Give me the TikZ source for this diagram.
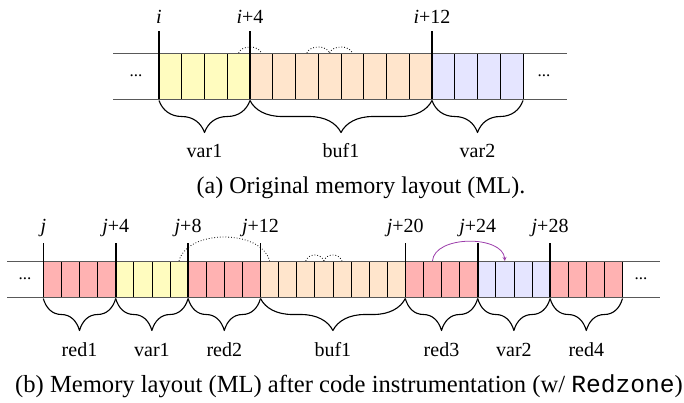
\documentclass[tikz,border=0pt]{standalone}
\usepackage{fontspec}
\setmainfont{Liberation Serif}
\setmonofont{Liberation Mono}
\usetikzlibrary{decorations.pathreplacing,arrows.meta,positioning}
\definecolor{arcviolet}{RGB}{155,60,170}

\begin{document}
\begin{tikzpicture}[x=1pt, y=-1pt, >=stealth, line join=round,
    cellbox/.style={draw=black, line width=0.7pt, inner sep=0pt, outer sep=0pt, anchor=north west},
    ptr/.style={line width=1.6pt},
    brc/.style={decorate, decoration={brace, mirror, amplitude=32pt, raise=1.5pt}, line width=1.1pt},
    lbl/.style={font=\fontsize{20}{24}\selectfont, inner sep=0pt},
    dotsn/.style={font=\fontsize{17}{20}\selectfont, inner sep=1pt},
    captxt/.style={font=\fontsize{24}{28}\selectfont, inner sep=0pt, anchor=base},
    ovf/.style={dotted, line width=0.8pt},
    strip/.style={draw=gray!70!black, line width=0.8pt}]
  \useasboundingbox (0,0) rectangle (684,402);

  % (a) original layout
  \foreach \s/\n/\c in {0/4/yellow!25, 4/8/orange!20, 12/4/blue!10}{
    \pgfmathtruncatemacro\e{\s+\n-1}
    \foreach \k in {\s,...,\e}
      \node[cellbox, fill=\c, minimum width=22.75pt, minimum height=46pt] (a\k) at (159+22.75*\k,53) {};
  }
  \draw[strip] (113,53) -- (567,53) (113,99) -- (567,99);
  \node[dotsn] (dl) at (136,76) {...};
  \node[dotsn] (dr) at (544,76) {...};
  \foreach \k/\t [count=\n] in {0/{\textit{i}}, 4/{\textit{i}+4}, 12/{\textit{i}+12}}
    \draw[ptr] (a\k.south west) -- ++(0,-68) node[lbl, anchor=base, yshift=8pt] (pa\n) {\t};
  \foreach \s/\e/\t [count=\n] in {0/3/var1, 4/11/buf1, 12/15/var2}
    \draw[brc] (a\s.south west) -- (a\e.south east) node[lbl, midway, anchor=base, yshift=-58pt] (la\n) {\t};
  \draw[ovf] (a3.north) .. controls +(3,-8) and +(-3,-8) .. (a4.north);
  \draw[ovf] (a6.north) .. controls +(3,-8) and +(-3,-8) .. (a7.north);
  \draw[ovf] (a7.north) .. controls +(3,-8) and +(-3,-8) .. (a8.north);
  \node[captxt] (capa) at (361,193) {(a) Original memory layout (ML).};

  % (b) with redzones
  \foreach \s/\n/\c in {0/4/red!30, 4/4/yellow!25, 8/4/red!30, 12/8/orange!20, 20/4/red!30, 24/4/blue!10, 28/4/red!30}{
    \pgfmathtruncatemacro\e{\s+\n-1}
    \foreach \k in {\s,...,\e}
      \node[cellbox, fill=\c, minimum width=18.1pt, minimum height=36pt] (b\k) at (43.3+18.1*\k,261) {};
  }
  \draw[strip] (7,261) -- (660,261) (7,297) -- (660,297);
  \node[dotsn] (el) at (25,279) {...};
  \node[dotsn] (er) at (641,279) {...};
  \foreach \k/\t [count=\n] in {0/{\textit{j}}, 4/{\textit{j}+4}, 8/{\textit{j}+8}, 12/{\textit{j}+12}, 20/{\textit{j}+20}, 24/{\textit{j}+24}, 28/{\textit{j}+28}}
    \draw[ptr] (b\k.south west) -- ++(0,-54) node[lbl, anchor=base, yshift=11pt] (pb\n) {\t};
  \foreach \s/\e/\t [count=\n] in {0/3/red1, 4/7/var1, 8/11/red2, 12/19/buf1, 20/23/red3, 24/27/var2, 28/31/red4}
    \draw[brc] (b\s.south west) -- (b\e.south east) node[lbl, midway, anchor=base, yshift=-59pt] (lb\n) {\t};
  \draw[ovf] (b7.north) .. controls +(8,-32) and +(-8,-32) .. (b12.north);
  \draw[ovf] (b14.north) .. controls +(3,-8) and +(-3,-8) .. (b15.north);
  \draw[ovf] (b15.north) .. controls +(3,-8) and +(-3,-8) .. (b16.north);
  \draw[->, arcviolet, line width=0.8pt] (b21.north) .. controls +(2,-26) and +(-2,-26) .. (b25.north);
  \node[captxt, font=\fontsize{24.6}{28}\selectfont] (capb) at (349,392) {(b) Memory layout (ML) after code instrumentation (w/ \texttt{Redzone})};
\end{tikzpicture}
\end{document}
